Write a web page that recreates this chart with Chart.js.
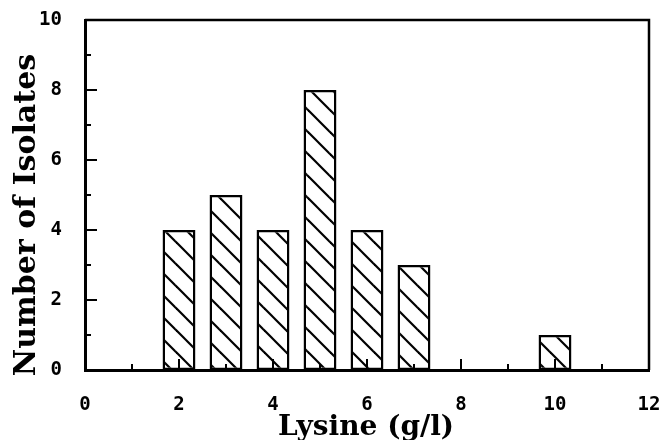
<!DOCTYPE html>
<html><head><meta charset="utf-8">
<script src="https://cdn.jsdelivr.net/npm/chart.js@4.4.1/dist/chart.umd.min.js"></script>
<style>html,body{margin:0;padding:0;background:#fff}</style>
</head><body>
<canvas id="c" width="662" height="440"></canvas>
<script>
const lysine = [2, 3, 4, 5, 6, 7, 10];
const isolates = [4, 5, 4, 8, 4, 3, 1];
const xTickValues = [0, 2, 4, 6, 8, 10, 12];
const yTickValues = [0, 2, 4, 6, 8, 10];
const xMinorValues = [1, 3, 5, 7, 9, 11];
const yMinorValues = [1, 3, 5, 7, 9];
const xTitle = 'Lysine (g/l)';
const yTitle = 'Number of Isolates';

const canvas = document.getElementById('c');
const ctx = canvas.getContext('2d');

function makeHatch() {
  const s = 22;
  const t = document.createElement('canvas');
  t.width = s; t.height = s;
  const g = t.getContext('2d');
  g.fillStyle = '#fff'; g.fillRect(0, 0, s, s);
  g.strokeStyle = '#000'; g.lineWidth = 2.2;
  for (const o of [-s, 0, s]) {
    g.beginPath(); g.moveTo(o - 3, -3); g.lineTo(o + s + 3, s + 3); g.stroke();
  }
  return ctx.createPattern(t, 'repeat');
}

const tickFont = { family: 'DejaVu Sans Mono', weight: 'bold', size: 19 };

function zeroPad(s) { s.paddingLeft = 0; s.paddingRight = 0; s.paddingTop = 0; s.paddingBottom = 0; }

const decor = {
  id: 'decor',
  afterDatasetsDraw(chart) {
    const c = chart.ctx, a = chart.chartArea;
    const xs = chart.scales.x, ys = chart.scales.y;
    c.save();
    c.strokeStyle = '#000';
    c.lineWidth = 2.5;
    c.beginPath();
    c.moveTo(a.left, a.top); c.lineTo(a.right, a.top); c.lineTo(a.right, a.bottom);
    c.stroke();
    c.lineWidth = 2;
    c.beginPath();
    for (const v of yTickValues) { const y = ys.getPixelForValue(v); c.moveTo(a.left, y); c.lineTo(a.left + 12, y); }
    for (const v of yMinorValues) { const y = ys.getPixelForValue(v); c.moveTo(a.left, y); c.lineTo(a.left + 6, y); }
    for (const v of xTickValues) { const x = xs.getPixelForValue(v); c.moveTo(x, a.bottom); c.lineTo(x, a.bottom - 11); }
    for (const v of xMinorValues) { const x = xs.getPixelForValue(v); c.moveTo(x, a.bottom); c.lineTo(x, a.bottom - 6); }
    c.stroke();
    c.fillStyle = '#000';
    c.textAlign = 'center';
    c.textBaseline = 'alphabetic';
    c.font = 'bold 28px "DejaVu Serif"';
    c.fillText(xTitle, 366, 435);
    c.font = 'bold 30px "DejaVu Serif"';
    c.translate(35, 215);
    c.rotate(-Math.PI / 2);
    c.fillText(yTitle, 0, 0);
    c.restore();
  }
};

new Chart(ctx, {
  type: 'bar',
  data: {
    datasets: [{
      data: lysine.map((x, i) => ({ x: x, y: isolates[i] })),
      backgroundColor: makeHatch(),
      borderColor: '#000',
      borderWidth: 2.5,
      borderSkipped: false,
      barPercentage: 0.7,
      categoryPercentage: 1
    }]
  },
  options: {
    responsive: false,
    devicePixelRatio: 1,
    animation: false,
    layout: { padding: { left: 0, right: 13, top: 20, bottom: 0 } },
    plugins: { legend: { display: false }, tooltip: { enabled: false } },
    scales: {
      x: {
        type: 'linear', min: 0, max: 12, offset: false,
        grid: { display: false, drawTicks: false, offset: false },
        border: { display: true, color: '#000', width: 3 },
        ticks: { font: tickFont, color: '#000', padding: 24, maxRotation: 0, autoSkip: false },
        afterBuildTicks: s => { s.ticks = xTickValues.map(v => ({ value: v })); },
        afterFit: s => { s.height = 70; zeroPad(s); }
      },
      y: {
        type: 'linear', min: 0, max: 10,
        grid: { display: false, drawTicks: false },
        border: { display: true, color: '#000', width: 3 },
        ticks: { font: tickFont, color: '#000', padding: 23 },
        afterBuildTicks: s => { s.ticks = yTickValues.map(v => ({ value: v })); },
        afterFit: s => { s.width = 85; zeroPad(s); }
      }
    }
  },
  plugins: [decor]
});
</script>
</body></html>
